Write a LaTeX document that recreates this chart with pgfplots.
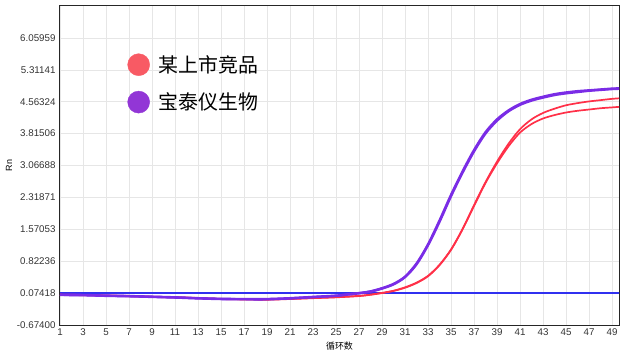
\documentclass[border=0pt]{standalone}
\usepackage{pgfplots}
\pgfplotsset{compat=1.18}
\usepackage{fontspec}
\setmainfont{Liberation Sans}
\newfontfamily\cjk{Noto Sans CJK SC}
\definecolor{redline}{HTML}{FF3048}
\definecolor{purpline}{HTML}{7A2CE6}
\definecolor{thrblue}{HTML}{3030F0}
\definecolor{legred}{HTML}{F85A64}
\definecolor{legpurp}{HTML}{9236D6}
\definecolor{tickgray}{HTML}{333333}
\definecolor{gridgray}{HTML}{E6E6E6}
\begin{document}
\begin{tikzpicture}[x=1bp,y=1bp]
\begin{axis}[
  at={(0,0)}, anchor=south west,
  scale only axis, width=559bp, height=319bp,
  xmin=1, xmax=49.6, ymin=-0.674, ymax=6.80777,
  xtick={1,3,...,49},
  ytick={-0.674,0.07418,0.82236,1.57053,2.31871,3.06688,3.81506,4.56324,5.31141,6.05959},
  yticklabels={-0.67400,0.07418,0.82236,1.57053,2.31871,3.06688,3.81506,4.56324,5.31141,6.05959},
  /pgf/number format/assume math mode=true,
  tick label style={font=\fontsize{9.8}{11}\selectfont, text=tickgray},
  yticklabel style={xshift=-1bp},
  major tick length=0pt,
  xtick pos=bottom, ytick pos=left,
  grid=major, major grid style={gridgray, line width=0.6bp},
  axis line style={black!85, line width=1bp},
  xlabel={\cjk 循环数}, xlabel style={font=\fontsize{9}{10}\selectfont, yshift=0bp},
  ylabel={Rn}, ylabel style={font=\fontsize{9}{10}\selectfont, yshift=-2bp},
  legend cell align=left,
  legend style={at={(rel axis cs:0.115,0.858)}, anchor=north west, draw=none, fill=none,
    font=\cjk\fontsize{20}{24}\selectfont, row sep=15bp},
]
\addlegendimage{legend image code/.code={\fill[legred] (0bp,0bp) circle (11bp); \path[draw=none,fill=none] (-11bp,0bp) -- (18bp,0bp);}}
\addlegendentry{某上市竞品}
\addlegendimage{legend image code/.code={\fill[legpurp] (0bp,0bp) circle (11bp); \path[draw=none,fill=none] (-11bp,0bp) -- (18bp,0bp);}}
\addlegendentry{宝泰仪生物}
% threshold
\addplot[thrblue, line width=2bp, forget plot] coordinates {(1,0.085) (50,0.085)};
% red replicate 1
\addplot[redline, line width=1.7bp, smooth, forget plot] coordinates {
(1,0.04)(3,0.03)(5,0.02)(7,0.01)(9,-0.01)(11,-0.02)(13,-0.04)(15,-0.06)(17,-0.07)(19,-0.075)
(21,-0.06)(23,-0.04)(25,-0.02)(27,0.01)(28,0.04)(29,0.08)(30,0.13)(31,0.21)(32,0.32)(33,0.48)
(34,0.74)(35,1.10)(36,1.58)(37,2.14)(38,2.68)(39,3.16)(40,3.58)(41,3.92)(42,4.15)(43,4.30)
(44,4.40)(45,4.48)(46,4.53)(47,4.57)(48,4.60)(49,4.63)(50,4.65)};
% red replicate 2
\addplot[redline, line width=1.7bp, smooth, forget plot] coordinates {
(1,0.03)(3,0.025)(5,0.015)(7,0.0)(9,-0.015)(11,-0.03)(13,-0.045)(15,-0.065)(17,-0.075)(19,-0.08)
(21,-0.065)(23,-0.045)(25,-0.025)(27,0.005)(28,0.035)(29,0.075)(30,0.125)(31,0.20)(32,0.31)(33,0.47)
(34,0.73)(35,1.09)(36,1.57)(37,2.12)(38,2.66)(39,3.12)(40,3.52)(41,3.84)(42,4.04)(43,4.17)
(44,4.25)(45,4.31)(46,4.35)(47,4.38)(48,4.41)(49,4.43)(50,4.45)};
% purple replicate 1
\addplot[purpline, line width=2.4bp, smooth, forget plot] coordinates {
(1,0.03)(3,0.025)(5,0.01)(7,0.0)(9,-0.015)(11,-0.03)(13,-0.05)(15,-0.065)(17,-0.07)(19,-0.07)
(21,-0.05)(23,-0.02)(25,0.01)(26,0.04)(27,0.07)(28,0.11)(29,0.18)(30,0.28)(31,0.45)(32,0.75)
(33,1.20)(34,1.75)(35,2.35)(36,2.90)(37,3.40)(38,3.82)(39,4.12)(40,4.34)(41,4.49)(42,4.59)
(43,4.66)(44,4.72)(45,4.76)(46,4.79)(47,4.82)(48,4.84)(49,4.86)(50,4.87)};
% purple replicate 2
\addplot[purpline, line width=2.4bp, smooth, forget plot] coordinates {
(1,0.035)(3,0.03)(5,0.015)(7,0.005)(9,-0.01)(11,-0.025)(13,-0.045)(15,-0.06)(17,-0.065)(19,-0.065)
(21,-0.045)(23,-0.015)(25,0.015)(26,0.045)(27,0.075)(28,0.115)(29,0.19)(30,0.29)(31,0.46)(32,0.77)
(33,1.22)(34,1.78)(35,2.38)(36,2.93)(37,3.43)(38,3.85)(39,4.15)(40,4.36)(41,4.51)(42,4.61)
(43,4.68)(44,4.74)(45,4.78)(46,4.81)(47,4.83)(48,4.85)(49,4.87)(50,4.88)};
\end{axis}
\pgfresetboundingbox
\path[use as bounding box] (-60,-27) rectangle (564,325);
\end{tikzpicture}
\end{document}
